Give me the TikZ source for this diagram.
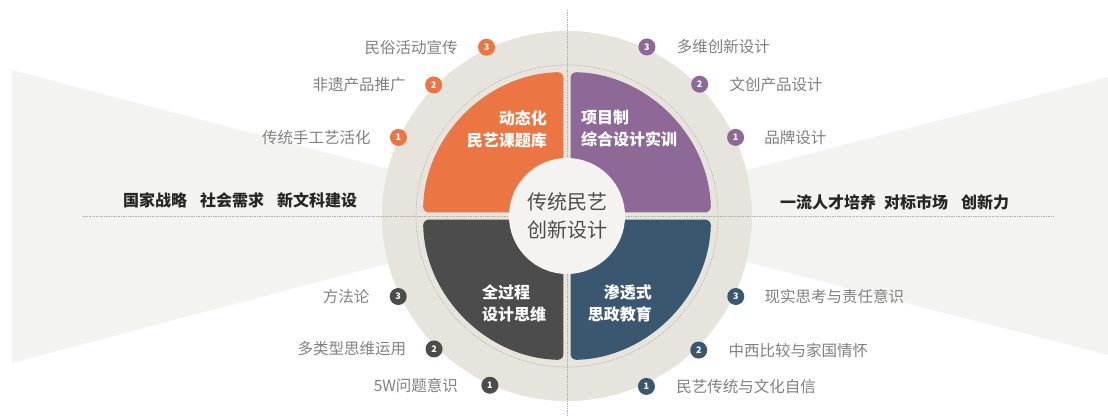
\documentclass[tikz,border=0pt]{standalone}
\usepackage{fontspec}
\setmainfont{Noto Sans CJK SC}
\usetikzlibrary{positioning}
\definecolor{qorange}{RGB}{236,117,68}
\definecolor{qpurple}{RGB}{142,104,151}
\definecolor{qdark}{RGB}{76,76,76}
\definecolor{qblue}{RGB}{58,87,112}
\definecolor{ringbg}{RGB}{230,228,221}
\definecolor{fanbg}{RGB}{243,243,242}
\definecolor{hubbg}{RGB}{244,243,241}
\definecolor{labgray}{RGB}{128,128,128}
\definecolor{dotgray}{RGB}{175,173,166}
\begin{document}
\begin{tikzpicture}[x=1pt,y=1pt,
  num/.style={circle,minimum size=17pt,inner sep=0pt,text=white,font=\fontsize{9}{9}\selectfont\bfseries},
  lab/.style={inner sep=0pt,text=labgray,font=\fontsize{15.5}{16}\selectfont},
  quad/.style={inner sep=0pt,text=white,font=\fontsize{16}{22}\selectfont\bfseries},
  goal/.style={inner sep=0pt,text=black!85,font=\fontsize{16}{16}\selectfont\bfseries},
  guide/.style={dotgray,densely dotted,line width=0.7pt}]
\useasboundingbox (-567,-200) rectangle (541,216);
% fans behind the ring
\fill[fanbg] (0,0) -- (-555,146) -- (-555,-147) -- cycle;
\fill[fanbg] (0,0) -- (541,139) -- (541,-139) -- cycle;
% ring
\fill[ringbg] (0,0) circle (185);
\draw[guide] (0,0) circle (151);
\draw[guide] (-485,0) -- (486,0);
\draw[guide] (0,206) -- (0,-200);
% quadrants
\fill[qorange,rounded corners=6pt] (-3.5,3.5) -- (91.4:144) arc[start angle=91.4,end angle=178.6,radius=144] -- cycle;
\fill[qpurple,rounded corners=6pt] (3.5,3.5) -- (1.4:144) arc[start angle=1.4,end angle=88.6,radius=144] -- cycle;
\fill[qdark,rounded corners=6pt] (-3.5,-3.5) -- (181.4:144) arc[start angle=181.4,end angle=268.6,radius=144] -- cycle;
\fill[qblue,rounded corners=6pt] (3.5,-3.5) -- (271.4:144) arc[start angle=271.4,end angle=358.6,radius=144] -- cycle;
% hub
\node[circle,fill=hubbg,minimum size=116pt,inner sep=0pt,text=qdark,align=center,
  font=\fontsize{20}{28}\selectfont] (hub) at (0,0) {传统民艺\\创新设计};
% quadrant titles
\node[quad,align=right,anchor=east] (tOrange) at (-20,87) {动态化\\民艺课题库};
\node[quad,align=left,anchor=west] (tPurple) at (14,87) {项目制\\综合设计实训};
\node[quad,align=left,anchor=west] (tDark) at (-85,-87) {全过程\\设计思维};
\node[quad,align=right,anchor=east] (tBlue) at (85,-87) {渗透式\\思政教育};
% numbered points, orange
\node[num,fill=qorange] (o1) at (155:186) {1};
\node[num,fill=qorange] (o2) at (135.5:187) {2};
\node[num,fill=qorange] (o3) at (115.5:187) {3};
\node[lab,left=19pt of o1] (lo1) {传统手工艺活化};
\node[lab,left=19pt of o2] (lo2) {非遗产品推广};
\node[lab,left=20pt of o3] (lo3) {民俗活动宣传};
% purple
\node[num,fill=qpurple] (p1) at (25:186) {1};
\node[num,fill=qpurple] (p2) at (44.8:187) {2};
\node[num,fill=qpurple] (p3) at (64.7:187) {3};
\node[lab,right=20pt of p1] (lp1) {品牌设计};
\node[lab,right=21pt of p2] (lp2) {文创产品设计};
\node[lab,right=21pt of p3] (lp3) {多维创新设计};
% dark
\node[num,fill=qdark] (d3) at (205.5:187) {3};
\node[num,fill=qdark] (d2) at (225:188) {2};
\node[num,fill=qdark] (d1) at (245.5:186) {1};
\node[lab,left=20pt of d3] (ld3) {方法论};
\node[lab,left=19pt of d2] (ld2) {多类型思维运用};
\node[lab,left=23pt of d1] (ld1) {5W问题意识};
% blue
\node[num,fill=qblue] (b3) at (334.5:187) {3};
\node[num,fill=qblue] (b2) at (314.5:188) {2};
\node[num,fill=qblue] (b1) at (295:188) {1};
\node[lab,right=20pt of b3] (lb3) {现实思考与责任意识};
\node[lab,right=21pt of b2] (lb2) {中西比较与家国情怀};
\node[lab,right=21pt of b1] (lb1) {民艺传统与文化自信};
% goals
\node[goal,anchor=west] (gLeft) at (-444,16) {国家战略\hspace{13pt}社会需求\hspace{13pt}新文科建设};
\node[goal,anchor=west] (gRight) at (213,14) {一流人才培养\hspace{8pt}对标市场\hspace{13pt}创新力};
\end{tikzpicture}
\end{document}
